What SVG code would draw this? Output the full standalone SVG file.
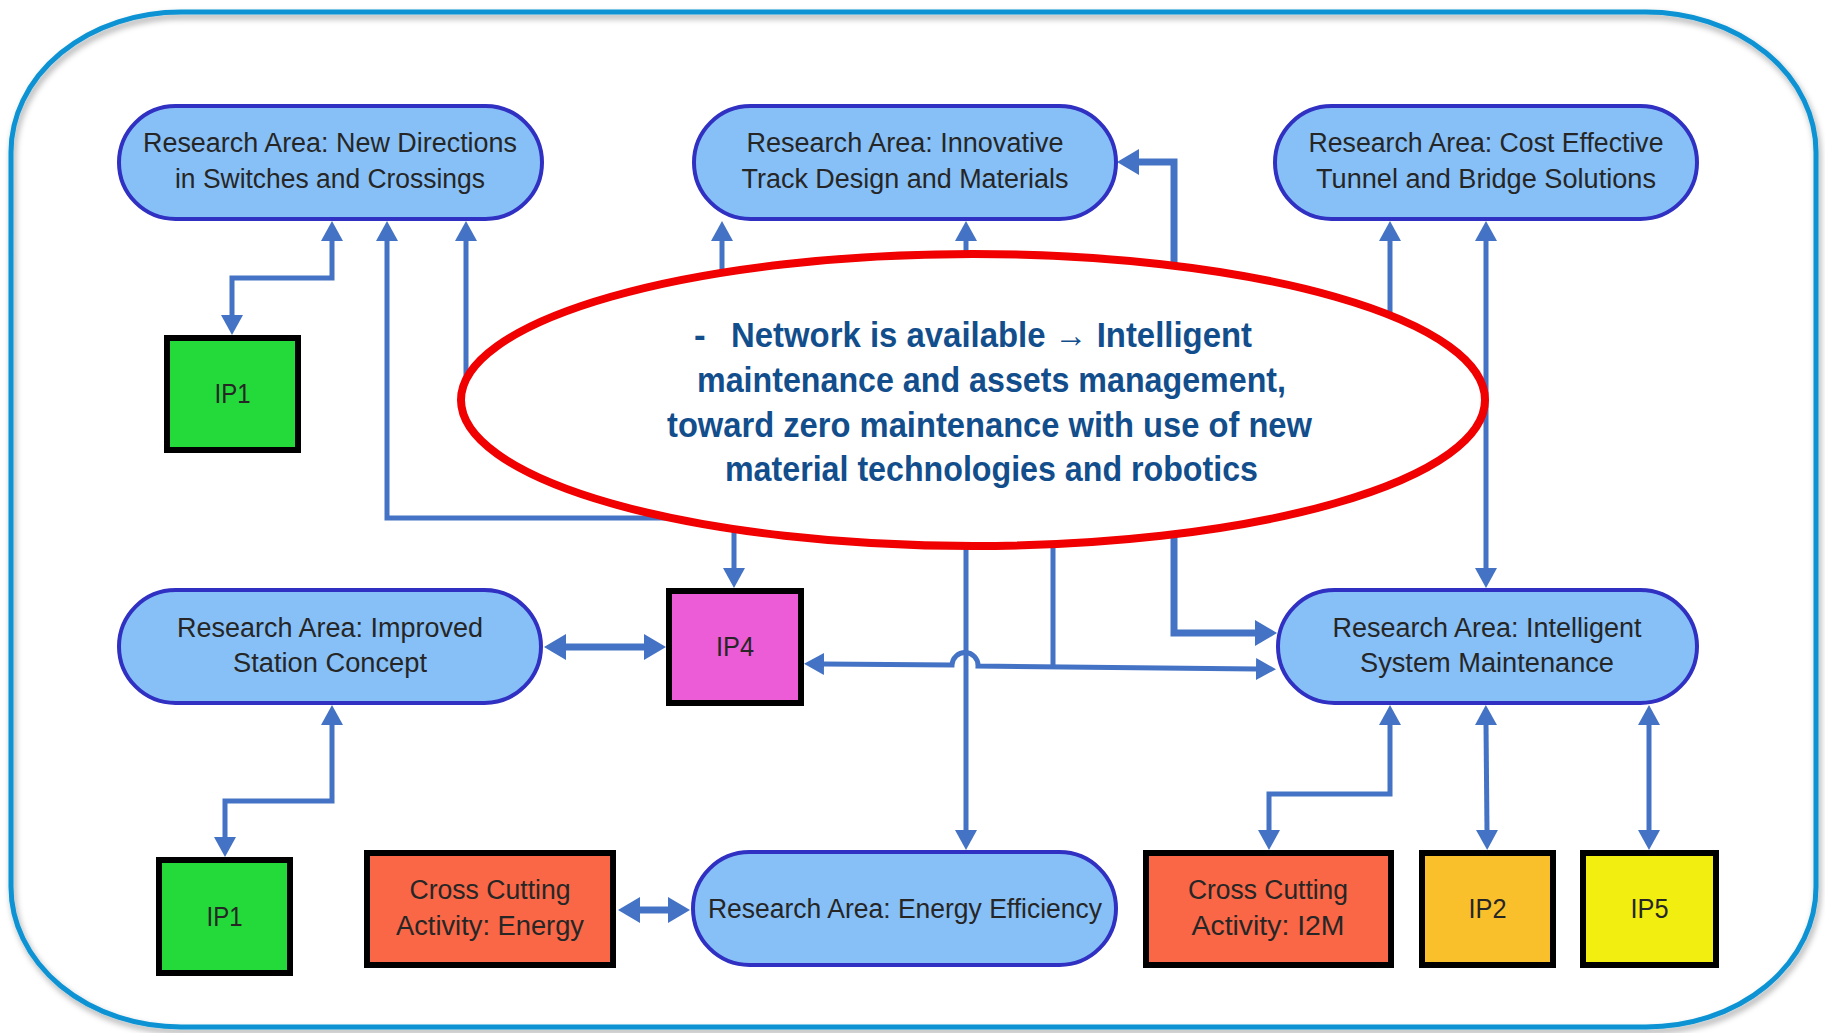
<svg xmlns="http://www.w3.org/2000/svg" width="1825" height="1033" viewBox="0 0 1825 1033">
<style>
.pill{fill:#86C0F7;stroke:#3030C2;stroke-width:4}
.box{stroke:#000;stroke-width:6}
.lbl{font-family:"Liberation Sans",Arial,sans-serif;font-size:27px;fill:#262626;text-anchor:middle}
.big{font-family:"Liberation Sans",Arial,sans-serif;font-size:35px;font-weight:bold;fill:#134E8C}
.c{fill:none;stroke:#4472C4;stroke-width:5}
.ca{fill:none;stroke:#4472C4;stroke-width:5;marker-start:url(#ar);marker-end:url(#ar)}
.cs{fill:none;stroke:#4472C4;stroke-width:5;marker-start:url(#ar)}
.ce{fill:none;stroke:#4472C4;stroke-width:5;marker-end:url(#ar)}
.ct{fill:none;stroke:#4472C4;stroke-width:7;marker-start:url(#ab);marker-end:url(#ab)}
</style>
<defs>
<marker id="ar" markerUnits="userSpaceOnUse" markerWidth="21" markerHeight="22" refX="1" refY="11" orient="auto-start-reverse"><path d="M0,0 L20,11 L0,22 Z" fill="#4472C4"/></marker>
<marker id="ab" markerUnits="userSpaceOnUse" markerWidth="23" markerHeight="26" refX="1" refY="13" orient="auto-start-reverse"><path d="M0,0 L22,13 L0,26 Z" fill="#4472C4"/></marker>
<filter id="sh" x="-5%" y="-5%" width="110%" height="110%"><feDropShadow dx="2" dy="4" stdDeviation="3" flood-color="#000" flood-opacity="0.35"/></filter>
</defs>
<rect width="1825" height="1033" fill="#fff"/>
<path id="frame" d="M181,12 H1646 A170,140 0 0 1 1816,152 V887 A170,140 0 0 1 1646,1027 H181 A170,140 0 0 1 11,887 V152 A170,140 0 0 1 181,12 Z" fill="none" stroke="#0993D3" stroke-width="5" filter="url(#sh)"/>
<g id="connectors">
<path class="ca" d="M332,240 V278 H232 V316"/>
<path class="ca" d="M387,240 V518 H734 V569"/>
<path class="cs" d="M466,240 V410"/>
<path class="cs" d="M722,240 V300"/>
<path class="cs" d="M966,240 V300"/>
<path class="ct" d="M1138,162 H1174 V633 H1256"/>
<path class="cs" d="M1390,240 V350"/>
<path class="ca" d="M1486,240 V569"/>
<path class="ce" d="M966,500 V831"/>
<path class="c" d="M1053,520 V667"/>
<path class="ca" d="M823,664 L952,665 A13,13 0 0 1 978,666 L1257,669"/>
<path class="ct" stroke-width="8" d="M565,647 H645"/>
<path class="ca" d="M332,724 V801 H225 V838"/>
<path class="ct" d="M639,910 H669"/>
<path class="ca" d="M1390,724 V794 H1269 V831"/>
<path class="ca" d="M1486,724 L1487,831"/>
<path class="ca" d="M1649,724 V831"/>
</g>
<g id="callout">
<ellipse cx="973" cy="400" rx="512" ry="146" fill="#fff" stroke="#F00000" stroke-width="8"/>
<text class="big" x="694" y="347">-</text>
<text class="big" x="731" y="347" textLength="521" lengthAdjust="spacingAndGlyphs">Network is available → Intelligent</text>
<text class="big" x="697" y="392" textLength="589" lengthAdjust="spacingAndGlyphs">maintenance and assets management,</text>
<text class="big" x="667" y="437" textLength="645" lengthAdjust="spacingAndGlyphs">toward zero maintenance with use of new</text>
<text class="big" x="725" y="481" textLength="533" lengthAdjust="spacingAndGlyphs">material technologies and robotics</text>
</g>
<g id="ra-switches">
<rect class="pill" x="119" y="106" width="423" height="113" rx="56.5"/>
<text class="lbl" x="330" y="152" textLength="374" lengthAdjust="spacingAndGlyphs">Research Area: New Directions</text>
<text class="lbl" x="330" y="188" textLength="310" lengthAdjust="spacingAndGlyphs">in Switches and Crossings</text>
</g>
<g id="ra-track">
<rect class="pill" x="694" y="106" width="422" height="113" rx="56.5"/>
<text class="lbl" x="905" y="152" textLength="317" lengthAdjust="spacingAndGlyphs">Research Area: Innovative</text>
<text class="lbl" x="905" y="188" textLength="327" lengthAdjust="spacingAndGlyphs">Track Design and Materials</text>
</g>
<g id="ra-tunnel">
<rect class="pill" x="1275" y="106" width="422" height="113" rx="56.5"/>
<text class="lbl" x="1486" y="152" textLength="355" lengthAdjust="spacingAndGlyphs">Research Area: Cost Effective</text>
<text class="lbl" x="1486" y="188" textLength="340" lengthAdjust="spacingAndGlyphs">Tunnel and Bridge Solutions</text>
</g>
<g id="ra-station">
<rect class="pill" x="119" y="590" width="422" height="113" rx="56.5"/>
<text class="lbl" x="330" y="637" textLength="306" lengthAdjust="spacingAndGlyphs">Research Area: Improved</text>
<text class="lbl" x="330" y="672" textLength="194" lengthAdjust="spacingAndGlyphs">Station Concept</text>
</g>
<g id="ra-maintenance">
<rect class="pill" x="1278" y="590" width="419" height="113" rx="56.5"/>
<text class="lbl" x="1487" y="637" textLength="309" lengthAdjust="spacingAndGlyphs">Research Area: Intelligent</text>
<text class="lbl" x="1487" y="672" textLength="254" lengthAdjust="spacingAndGlyphs">System Maintenance</text>
</g>
<g id="ra-energy">
<rect class="pill" x="693" y="852" width="423" height="113" rx="56.5"/>
<text class="lbl" x="905" y="918" textLength="394" lengthAdjust="spacingAndGlyphs">Research Area: Energy Efficiency</text>
</g>
<g id="ip1-top">
<rect class="box" x="167" y="338" width="131" height="112" fill="#24D93A"/>
<text class="lbl" x="232.5" y="403" textLength="36" lengthAdjust="spacingAndGlyphs">IP1</text>
</g>
<g id="ip4">
<rect class="box" x="669" y="591" width="132" height="112" fill="#EC5CD6"/>
<text class="lbl" x="735" y="656" textLength="38" lengthAdjust="spacingAndGlyphs">IP4</text>
</g>
<g id="ip1-bottom">
<rect class="box" x="159" y="860" width="131" height="113" fill="#24D93A"/>
<text class="lbl" x="224.5" y="926" textLength="36" lengthAdjust="spacingAndGlyphs">IP1</text>
</g>
<g id="cc-energy">
<rect class="box" x="367" y="853" width="246" height="112" fill="#F96746"/>
<text class="lbl" x="490" y="899" textLength="161" lengthAdjust="spacingAndGlyphs">Cross Cutting</text>
<text class="lbl" x="490" y="935" textLength="188" lengthAdjust="spacingAndGlyphs">Activity: Energy</text>
</g>
<g id="cc-i2m">
<rect class="box" x="1146" y="853" width="245" height="112" fill="#F96746"/>
<text class="lbl" x="1268" y="899" textLength="160" lengthAdjust="spacingAndGlyphs">Cross Cutting</text>
<text class="lbl" x="1268" y="935" textLength="153" lengthAdjust="spacingAndGlyphs">Activity: I2M</text>
</g>
<g id="ip2">
<rect class="box" x="1422" y="853" width="131" height="112" fill="#FAC02B"/>
<text class="lbl" x="1487.5" y="918" textLength="38" lengthAdjust="spacingAndGlyphs">IP2</text>
</g>
<g id="ip5">
<rect class="box" x="1583" y="853" width="133" height="112" fill="#F2EE0F"/>
<text class="lbl" x="1649.5" y="918" textLength="38" lengthAdjust="spacingAndGlyphs">IP5</text>
</g>
</svg>
